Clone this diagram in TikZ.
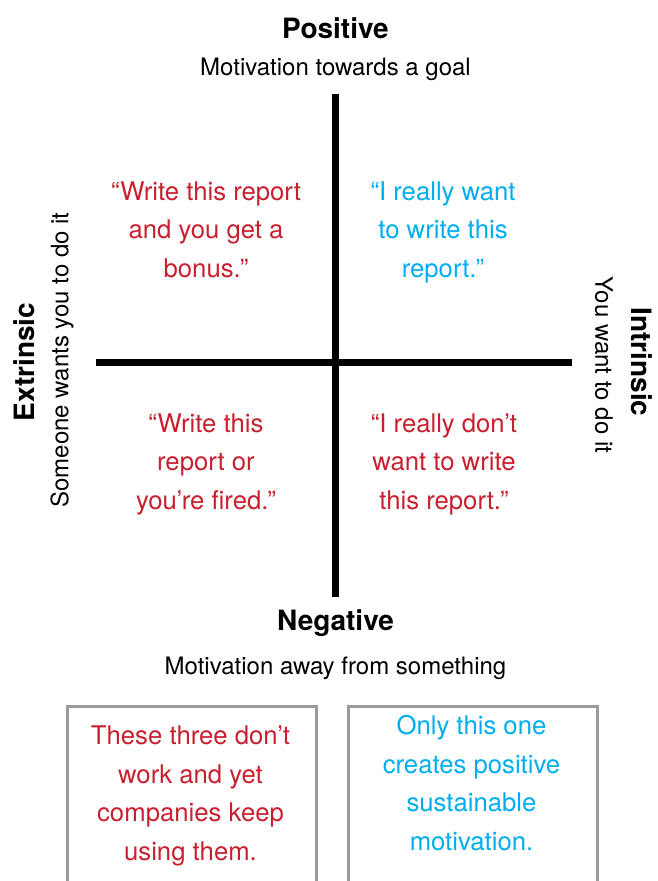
\documentclass[tikz,border=0pt]{standalone}
\usepackage{fontspec}
\setmainfont{TeX Gyre Heros}
\usepackage{xcolor}
\usepackage{tikz}
\usetikzlibrary{positioning}
\definecolor{quotered}{HTML}{C8202F}
\definecolor{quoteblue}{HTML}{00AEEF}
\definecolor{boxgray}{HTML}{9A9A9C}
\tikzstyle{title} = [font=\fontsize{28}{32}\selectfont\bfseries, inner sep=0pt, anchor=base]
\tikzstyle{subtitle} = [font=\fontsize{24}{28}\selectfont, inner sep=0pt, anchor=base]
\tikzstyle{quote} = [font=\fontsize{25.7}{38.5}\selectfont, align=center, inner sep=0pt, anchor=base]
\tikzstyle{axis} = [line width=7pt]
\tikzstyle{note} = [rectangle, draw=boxgray, line width=2.5pt, minimum width=249pt, minimum height=200pt, anchor=north west, inner sep=0pt]

\begin{document}
\begin{tikzpicture}[x=1pt, y=-1pt]
\useasboundingbox (0,0) rectangle (657,881);

% Axes
\coordinate (top) at (335.5,94);
\coordinate (bottom) at (335.5,597);
\coordinate (left) at (96,362.5);
\coordinate (right) at (572,362.5);
\draw[axis] (top) -- (bottom);
\draw[axis] (left) -- (right);

% Axis labels
\node[title] (pos) at (335.5,38) {Positive};
\node[subtitle] (possub) at (335.5,75) {Motivation towards a goal};
\node[title] (neg) at (335.5,630) {Negative};
\node[subtitle] (negsub) at (335.5,674) {Motivation away from something};
\node[title, anchor=center, rotate=90] (ext) at (24,362) {Extrinsic};
\node[subtitle, anchor=center, rotate=90] (extsub) at (62,360) {Someone wants you to do it};
\node[title, anchor=center, rotate=-90] (int) at (642,362) {Intrinsic};
\node[subtitle, anchor=center, rotate=-90] (intsub) at (604,365) {You want to do it};

% Quadrants (base = last line)
\node[quote, text=quotered] (q1) at (206,277) {“Write this report\\and you get a\\bonus.”};
\node[quote, text=quoteblue] (q2) at (443,277) {“I really want\\to write this\\report.”};
\node[quote, text=quotered] (q3) at (206,509) {“Write this\\report or\\you’re fired.”};
\node[quote, text=quotered] (q4) at (444,509) {“I really don’t\\want to write\\this report.”};

% Notes
\node[note] (leftbox) at (66,705) {};
\node[note] (rightbox) at (347,705) {};
\node[quote, text=quotered] (lefttext) at (190.5,860) {These three don’t\\work and yet\\companies keep\\using them.};
\node[quote, text=quoteblue] (righttext) at (471.5,850) {Only this one\\creates positive\\sustainable\\motivation.};
\end{tikzpicture}
\end{document}
